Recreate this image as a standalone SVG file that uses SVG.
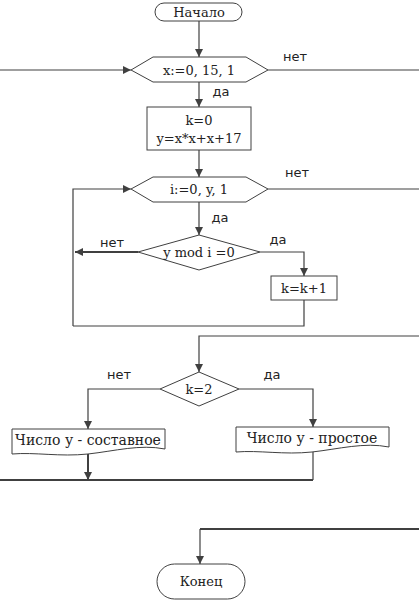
<svg xmlns="http://www.w3.org/2000/svg" width="419" height="601" viewBox="0 0 419 601">
<defs>
<style>
.s{fill:#fff;stroke:#404040;stroke-width:1}
.t{font-family:"DejaVu Serif","Liberation Serif",serif;font-size:13px;fill:#222;text-anchor:middle}
.d{font-size:14px}
.l{font-family:"DejaVu Sans","Liberation Sans",sans-serif;font-size:13px;fill:#222;text-anchor:middle}
.c{fill:none;stroke:#404040;stroke-width:1.2}
.b{fill:none;stroke:#404040;stroke-width:2}
</style>
<marker id="a" viewBox="0 0 10 10" refX="10" refY="5" markerWidth="8" markerHeight="8" markerUnits="userSpaceOnUse" orient="auto">
<path d="M0,0 L10,5 L0,10 Z" fill="#404040"/>
</marker>
</defs>
<rect width="419" height="601" fill="#fff"/>
<g id="connectors">
<path class="c" d="M199,21 V57" marker-end="url(#a)"/>
<path class="c" d="M0,70 H131" marker-end="url(#a)"/>
<path class="c" d="M268,70 H419"/>
<path class="c" d="M199,82 V107" marker-end="url(#a)"/>
<path class="c" d="M199,150 V177" marker-end="url(#a)"/>
<path class="c" d="M73,326 V189 H131" marker-end="url(#a)"/>
<path class="c" d="M268,189 H419"/>
<path class="c" d="M199,202 V235" marker-end="url(#a)"/>
<path class="b" d="M138,252 H75" marker-end="url(#a)"/>
<path class="c" d="M260,252 H304 V276" marker-end="url(#a)"/>
<path class="c" d="M304,300 V326 H73"/>
<path class="c" d="M419,336 H199 V372" marker-end="url(#a)"/>
<path class="c" d="M160,389 H88 V429" marker-end="url(#a)"/>
<path class="c" d="M239,389 H313 V427" marker-end="url(#a)"/>
<path class="b" d="M88,453 V480" marker-end="url(#a)"/>
<path class="c" d="M313,449 V480"/>
<path class="b" d="M0,480 H313"/>
<path class="b" d="M419,529 H200"/>
<path class="c" d="M200,529 V564" marker-end="url(#a)"/>
<text class="l" x="295" y="61">нет</text>
<text class="l" x="221" y="96">да</text>
<text class="l" x="297" y="177">нет</text>
<text class="l" x="220" y="222">да</text>
<text class="l" x="112" y="247">нет</text>
<text class="l" x="278" y="244">да</text>
<text class="l" x="119" y="379">нет</text>
<text class="l" x="272" y="379">да</text>
</g>
<g id="start">
<rect class="s" x="155" y="3" width="87" height="18" rx="9"/>
<text class="t" x="199" y="17">Начало</text>
</g>
<g id="loop-x">
<polygon class="s" points="131,70 153,57 246,57 268,70 246,82 153,82"/>
<text class="t" x="199" y="75">x:=0, 15, 1</text>
</g>
<g id="init">
<rect class="s" x="147" y="107" width="104" height="43"/>
<text class="t" x="199" y="125">k=0</text>
<text class="t" x="199" y="143">y=x*x+x+17</text>
</g>
<g id="loop-i">
<polygon class="s" points="131,189 153,177 246,177 268,189 246,202 153,202"/>
<text class="t" x="199" y="194">i:=0, y, 1</text>
</g>
<g id="cond-mod">
<polygon class="s" points="199,235 260,252 199,270 138,252"/>
<text class="t" x="199" y="257">y mod i  =0</text>
</g>
<g id="inc">
<rect class="s" x="271" y="276" width="66" height="24"/>
<text class="t" x="304" y="293">k=k+1</text>
</g>
<g id="cond-k">
<polygon class="s" points="199,372 239,389 199,406 160,389"/>
<text class="t" x="199" y="394">k=2</text>
</g>
<g id="out-composite">
<path class="s" d="M12,429 H165 V449 C140,444 115,451 88,454 C60,457 35,452 12,454 Z"/>
<text class="t d" x="88" y="445">Число у - составное</text>
</g>
<g id="out-prime">
<path class="s" d="M236,427 H389 V447 C364,442 339,449 312,452 C284,455 259,450 236,452 Z"/>
<text class="t d" x="312" y="443">Число у - простое</text>
</g>
<g id="end">
<rect class="s" x="157" y="564" width="88" height="35" rx="17.5"/>
<text class="t" x="201" y="586">Конец</text>
</g>
</svg>
